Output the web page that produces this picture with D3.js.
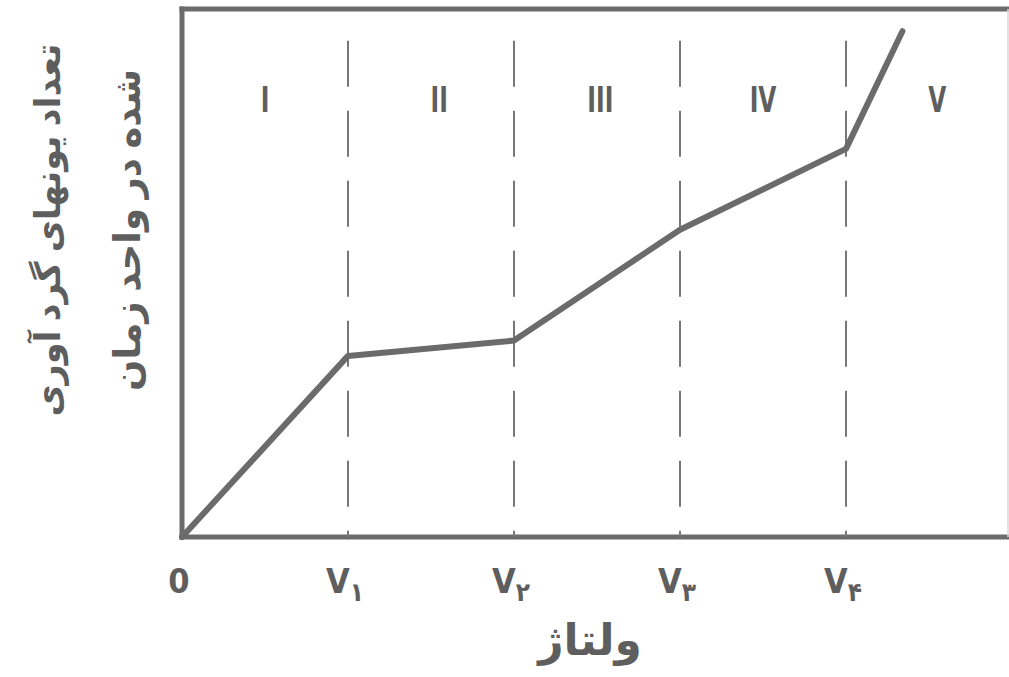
<!DOCTYPE html>
<html>
<head>
<meta charset="utf-8">
<script src="https://cdn.jsdelivr.net/npm/d3@7"></script>
<style>
  html, body { margin: 0; padding: 0; background: #fff; overflow: hidden; }
  svg { display: block; }
</style>
</head>
<body>
<svg id="chart" width="1009" height="677"></svg>
<script>
// ---- data ----
const voltage = [0, 1, 2, 3, 4, 4.34];
const ionCount = [0, 34.3, 37.2, 58.2, 73.5, 95.8];
const tickValues = [0, 1, 2, 3, 4];
const tickBase = ["0", "V", "V", "V", "V"];
const tickSub = ["", "۱", "۲", "۳", "۴"];
const regionCenters = [0.5, 1.55, 2.52, 3.5, 4.55];
const regionLabels = ["I", "II", "III", "IV", "V"];
const xTitle = "ولتاژ";
const yTitleLines = ["تعداد یونهای گرد آوری", "شده در واحد زمان"];

// ---- layout ----
const svg = d3.select("#chart");
const x = d3.scaleLinear().domain([0, 5]).range([182, 1012]);
const y = d3.scaleLinear().domain([0, 100]).range([537, 9]);
const ink = "#6b6b6b";

// frame (left, top, bottom; right side runs off the page)
const frame = [
  [x(0), y(0), x(0), y(100)],
  [x(0), y(100), 1012, y(100)],
  [x(0), y(0), 1012, y(0)]
];
svg.selectAll("line.frame").data(frame).join("line")
  .attr("class", "frame")
  .attr("x1", d => d[0]).attr("y1", d => d[1])
  .attr("x2", d => d[2]).attr("y2", d => d[3])
  .attr("stroke", ink).attr("stroke-width", 5)
  .attr("stroke-linecap", "square");
svg.append("line")
  .attr("x1", 1008).attr("x2", 1008).attr("y1", y(100)).attr("y2", y(0))
  .attr("stroke", "#d8d8d8").attr("stroke-width", 1.5);

// dashed verticals
svg.selectAll("line.div").data(tickValues.slice(1)).join("line")
  .attr("class", "div")
  .attr("x1", d => x(d)).attr("x2", d => x(d))
  .attr("y1", y(94)).attr("y2", y(0))
  .attr("stroke", "#777").attr("stroke-width", 2)
  .attr("stroke-dasharray", "46,24");

// region labels
svg.selectAll("text.reg").data(regionLabels).join("text")
  .attr("class", "reg")
  .attr("x", (d, i) => x(regionCenters[i]))
  .attr("y", y(80.5))
  .attr("text-anchor", "middle")
  .attr("font-family", "DejaVu Sans Condensed, DejaVu Sans")
  .attr("font-size", 36)
  .attr("font-weight", "bold")
  .attr("fill", "#5e5e5e")
  .attr("transform", (d, i) => `translate(${x(regionCenters[i])},${y(80.5)}) scale(0.72,1) translate(${-x(regionCenters[i])},${-y(80.5)})`)
  .text(d => d);

// curve
const line = d3.line().x((d, i) => x(voltage[i])).y(d => y(d));
svg.append("path")
  .datum(ionCount)
  .attr("d", line)
  .attr("fill", "none")
  .attr("stroke", ink)
  .attr("stroke-width", 6)
  .attr("stroke-linejoin", "round")
  .attr("stroke-linecap", "round");

// x tick labels
const tg = svg.selectAll("text.tick").data(tickValues).join("text")
  .attr("class", "tick")
  .attr("x", d => x(d) - 3)
  .attr("y", 593)
  .attr("text-anchor", "middle")
  .attr("font-family", "DejaVu Sans Condensed, DejaVu Sans")
  .attr("font-weight", "bold")
  .attr("font-size", 34)
  .attr("fill", "#5e5e5e");
tg.append("tspan").text((d, i) => tickBase[i]);
tg.append("tspan")
  .attr("font-size", 26)
  .attr("dy", 8)
  .text((d, i) => tickSub[i]);

// x title
svg.append("text")
  .attr("x", 590).attr("y", 655)
  .attr("text-anchor", "middle")
  .attr("font-family", "Noto Sans, DejaVu Sans")
  .attr("font-weight", "bold")
  .attr("font-size", 44)
  .attr("fill", "#5e5e5e")
  .text(xTitle);

// y title (two lines, rotated)
const yt = svg.append("text")
  .attr("transform", "translate(0,230) rotate(-90)")
  .attr("text-anchor", "middle")
  .attr("font-family", "Noto Sans, DejaVu Sans")
  .attr("font-weight", "bold")
  .attr("fill", "#5e5e5e");
yt.append("tspan").attr("x", 0).attr("y", 60).attr("font-size", 35).text(yTitleLines[0]);
yt.append("tspan").attr("x", 0).attr("y", 140).attr("font-size", 37).text(yTitleLines[1]);
</script>
</body>
</html>
